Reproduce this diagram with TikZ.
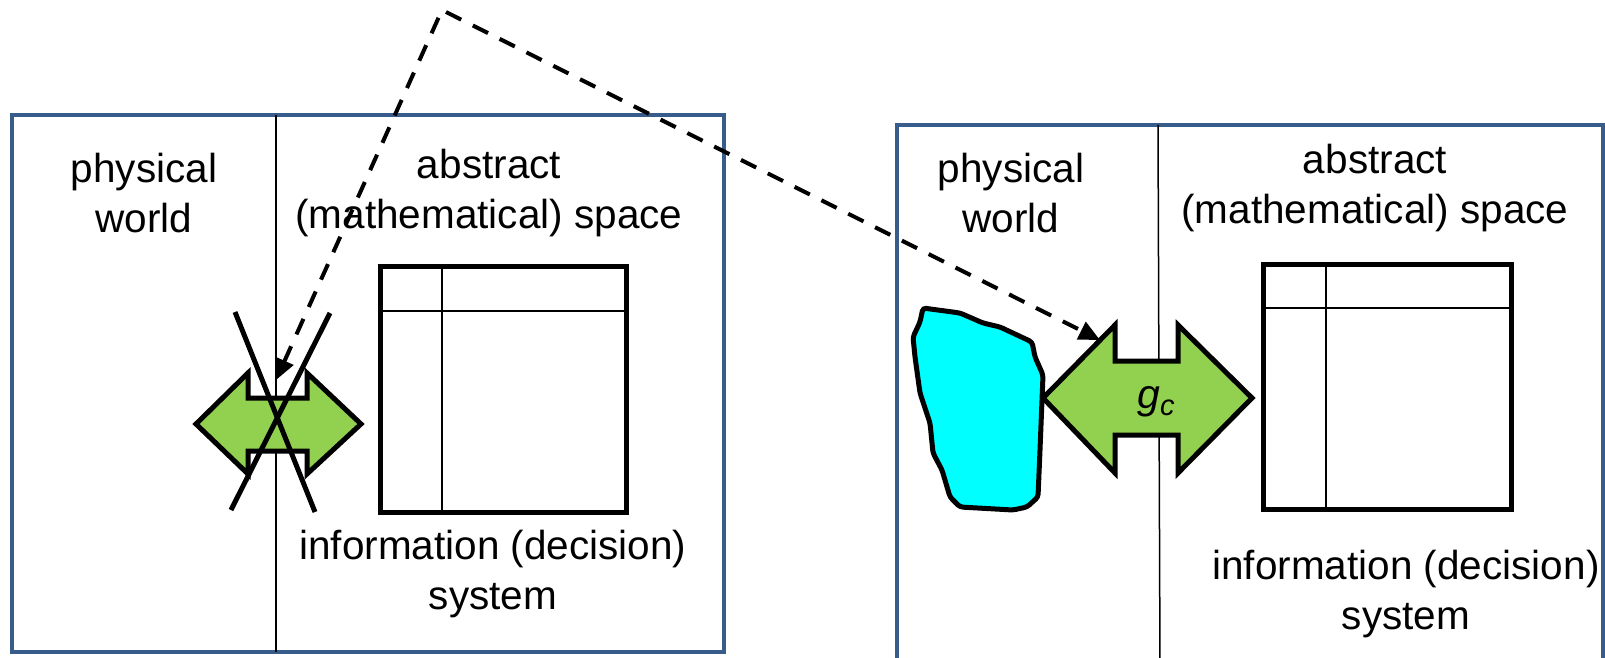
\documentclass[tikz,border=0pt]{standalone}
\usepackage{fontspec}
\setmainfont{Liberation Sans}
\usetikzlibrary{arrows.meta}
\definecolor{frameblue}{RGB}{56,93,138}
\definecolor{arrowgreen}{RGB}{146,208,80}
\definecolor{blobcyan}{RGB}{0,255,255}
\begin{document}
\begin{tikzpicture}[x=1pt,y=-1pt,
  frame/.style={draw=frameblue,line width=4.5pt},
  divider/.style={draw=black,line width=1.5pt},
  tableouter/.style={draw=black,line width=5pt},
  tableinner/.style={draw=black,line width=2pt},
  dblarrow/.style={draw=black,fill=arrowgreen,line width=5pt,line join=miter},
  crossline/.style={draw=black,line width=5pt},
  blob/.style={draw=black,fill=blobcyan,line width=5pt,rounded corners=3pt},
  link/.style={draw=black,line width=4pt,dash pattern=on 17pt off 13pt,
    {Triangle[length=21pt,width=19pt]}-{Triangle[length=21pt,width=19pt]}},
  lbl/.style={font=\fontsize{40.5}{50}\selectfont,align=center,inner sep=0pt,anchor=base},
]
\useasboundingbox (0,0) rectangle (1605,658);
\clip (0,0) rectangle (1605,658);
\fill[white] (0,0) rectangle (1605,658);

% ---------- left panel (anchors at baseline of last line) ----------
\draw[frame] (12,115) rectangle (724,652);
\draw[divider] (276,115) -- (276,652);
\node[lbl] (lphys) at (144,232) {physical\\world};
\node[lbl] (labs) at (489,228) {abstract\\(mathematical) space};
\node[lbl] (linfo) at (493,609) {information (decision)\\system};
\draw[tableouter] (380,266) rectangle (626,512);
\draw[tableinner] (442,266) -- (442,512);
\draw[tableinner] (380,311) -- (626,311);
\draw[dblarrow] (196,424) -- (248,373) -- (248,398) -- (307,398) -- (307,373)
  -- (361,424) -- (307,474) -- (307,451) -- (248,451) -- (248,474) -- cycle;
\draw[crossline] (235,312) -- (315,512);
\draw[crossline] (330,313) -- (231,510);
\coordinate (lend) at (276,380);

% ---------- right panel ----------
\draw[frame] (897,670) -- (897,125) -- (1603,125) -- (1603,670);
\draw[divider] (1158,125) -- (1160,670);
\node[lbl] (rphys) at (1011,232) {physical\\world};
\node[lbl] (rabs) at (1375,223) {abstract\\(mathematical) space};
\node[lbl] (rinfo) at (1406,629) {information (decision)\\system};
\draw[tableouter] (1263,264) rectangle (1511,509);
\draw[tableinner] (1326,264) -- (1326,509);
\draw[tableinner] (1263,308) -- (1511,308);
\draw[blob] (923,308) -- (960,313) -- (983,323) -- (1000,327) -- (1032,342)
  -- (1035,357) -- (1043,375) -- (1042,400) -- (1040,450) -- (1038,497)
  -- (1027,507) -- (1013,510) -- (960,507) -- (950,497) -- (942,470)
  -- (933,453) -- (930,423) -- (920,393) -- (915,357) -- (913,337)
  -- (920,322) -- cycle;
\draw[dblarrow] (1043,398) -- (1115,325) -- (1115,361) -- (1178,361) -- (1178,325)
  -- (1252,398) -- (1178,473) -- (1178,435) -- (1115,435) -- (1115,473) -- cycle;
\node[anchor=base west,inner sep=0pt,font=\fontsize{41}{44}\selectfont] (gc) at (1137,408)
  {\itshape g\raisebox{-7pt}{\fontsize{29}{29}\selectfont c}};
\coordinate (rend) at (1100,340);

% ---------- dashed link ----------
\coordinate (apex) at (442,10);
\draw[link] (lend) -- (apex) -- (rend);
\end{tikzpicture}
\end{document}
